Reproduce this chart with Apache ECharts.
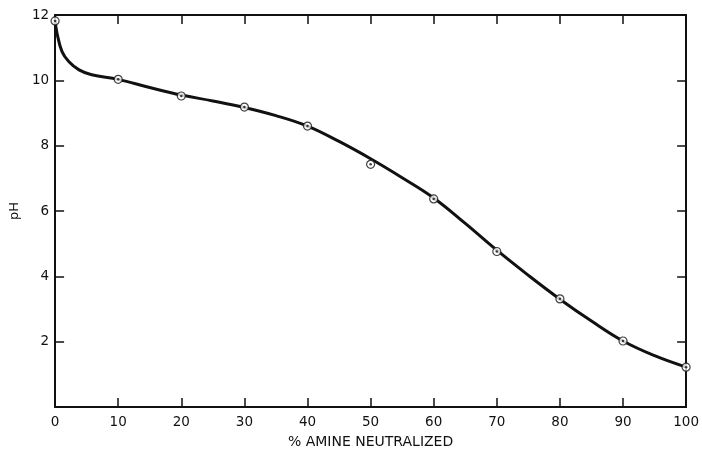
<!DOCTYPE html>
<html>
<head>
<meta charset="utf-8">
<script src="https://cdn.jsdelivr.net/npm/echarts@6/dist/echarts.min.js"></script>
<style>
html,body{margin:0;padding:0;background:#fff;}
#chart{width:702px;height:458px;}
</style>
</head>
<body>
<div id="chart"></div>
<script>
// Measured points (% amine neutralized, pH)
var pointX = [0, 10, 20, 30, 40, 50, 60, 70, 80, 90, 100];
var pointY = [11.82, 10.03, 9.52, 9.18, 8.6, 7.43, 6.37, 4.76, 3.31, 2.02, 1.22];
// Fitted curve
var curveX = [0, 0.3, 1.1, 2.2, 3.8, 5.8, 10, 15, 20, 25, 30, 35, 40, 45, 50, 55, 60, 65, 70, 75, 80, 85, 90, 95, 100];
var curveY = [11.85, 11.45, 10.88, 10.57, 10.32, 10.17, 10.03, 9.78, 9.55, 9.37, 9.17, 8.92, 8.6, 8.13, 7.6, 7.02, 6.4, 5.62, 4.8, 4.03, 3.3, 2.63, 2.02, 1.57, 1.22];
var xTicks = [0, 10, 20, 30, 40, 50, 60, 70, 80, 90, 100];
var yTicks = [2, 4, 6, 8, 10, 12];

var ink = '#111';
var font = 'DejaVu Sans';
function pairs(xs, ys){ return xs.map(function(x,i){ return [x, ys[i]]; }); }

var chart = echarts.init(document.getElementById('chart'), null, {renderer:'canvas'});
var tickCommon = {show:true, inside:true, length:9, lineStyle:{color:ink, width:1.5}};
var lineCommon = {show:true, onZero:false, lineStyle:{color:ink, width:2}};
chart.setOption({
  backgroundColor:'#fff',
  animation:false,
  grid:{left:53, right:14, top:15, bottom:51, containLabel:false},
  xAxis:[{
    type:'value', min:0, max:100, interval:10, position:'bottom',
    name:'% AMINE NEUTRALIZED', nameLocation:'middle', nameGap:28,
    nameTextStyle:{color:ink, fontFamily:font, fontSize:14},
    axisLine:lineCommon,
    axisTick:tickCommon,
    axisLabel:{color:ink, fontFamily:font, fontSize:13.5, margin:8,
      formatter:function(v){ return xTicks.indexOf(v) >= 0 ? String(v) : ''; }},
    splitLine:{show:false}
  },{
    type:'value', min:0, max:100, interval:10, position:'top',
    axisLine:lineCommon,
    axisTick:tickCommon, axisLabel:{show:false}, splitLine:{show:false}
  }],
  yAxis:[{
    type:'value', min:0, max:12, interval:2, position:'left',
    name:'pH', nameLocation:'middle', nameGap:33, nameRotate:90,
    nameTextStyle:{color:ink, fontFamily:font, fontSize:13},
    axisLine:lineCommon,
    axisTick:tickCommon,
    axisLabel:{color:ink, fontFamily:font, fontSize:13.5, margin:6,
      formatter:function(v){ return yTicks.indexOf(v) >= 0 ? String(v) : ''; }},
    splitLine:{show:false}
  },{
    type:'value', min:0, max:12, interval:2, position:'right',
    axisLine:lineCommon,
    axisTick:tickCommon, axisLabel:{show:false}, splitLine:{show:false}
  }],
  series:[{
    type:'line', data:pairs(curveX, curveY), smooth:0.4, showSymbol:false,
    lineStyle:{color:ink, width:3}, silent:true, z:2
  },{
    type:'scatter', data:pairs(pointX, pointY), symbol:'circle', symbolSize:8,
    itemStyle:{color:'#fff', borderColor:ink, borderWidth:1.2}, z:3
  },{
    type:'scatter', data:pairs(pointX, pointY), symbol:'circle', symbolSize:2.5,
    itemStyle:{color:ink}, z:4
  }]
});
</script>
</body>
</html>
